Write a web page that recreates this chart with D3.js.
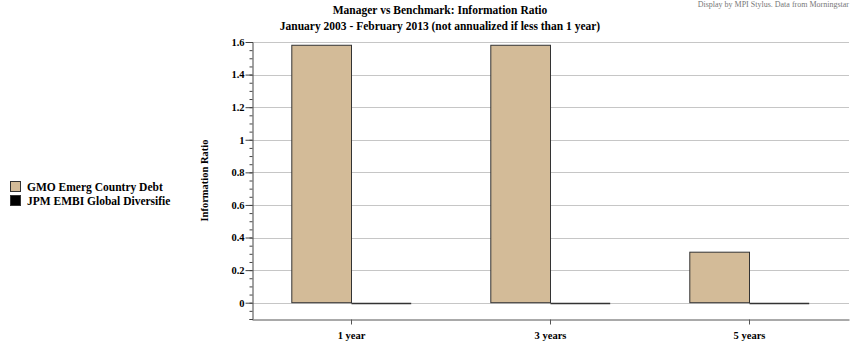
<!DOCTYPE html>
<html>
<head>
<meta charset="utf-8">
<script src="https://cdn.jsdelivr.net/npm/d3@7"></script>
<style>
  html, body { margin: 0; padding: 0; background: #fff; }
  svg { display: block; }
  text { font-family: "Liberation Serif", "DejaVu Serif", serif; }
</style>
</head>
<body>
<svg id="chart" width="852" height="349"></svg>
<script>
// Information ratio by trailing period
const categories = ["1 year", "3 years", "5 years"];
const seriesNames = ["GMO Emerg Country Debt", "JPM EMBI Global Diversifie"];
const gmoValues = [1.58, 1.58, 0.31];
const jpmValues = [0, 0, 0];
const yTickValues = [0, 0.2, 0.4, 0.6, 0.8, 1, 1.2, 1.4, 1.6];
const yTickLabels = ["0", "0.2", "0.4", "0.6", "0.8", "1", "1.2", "1.4", "1.6"];
const seriesColors = ["#D3BB98", "#000000"];

const svg = d3.select("#chart");
const plot = { left: 252, right: 849, top: 42, bottom: 319 };

const y = d3.scaleLinear().domain([-0.1, 1.6]).range([plot.bottom, plot.top]);
const x = d3.scaleBand().domain(categories).range([plot.left, plot.right]).padding(0);
const bw = x.bandwidth();
const xs = d3.scaleBand().domain(seriesNames).range([bw * 0.2, bw * 0.8]).padding(0);

// Source note, top right
svg.append("text")
  .attr("x", 849).attr("y", 7)
  .attr("text-anchor", "end")
  .attr("font-size", 8)
  .attr("fill", "#777")
  .text("Display by MPI Stylus. Data from Morningstar");

// Titles
svg.append("text")
  .attr("x", 440).attr("y", 14)
  .attr("text-anchor", "middle")
  .attr("font-size", 11.5).attr("font-weight", "bold")
  .text("Manager vs Benchmark: Information Ratio");
svg.append("text")
  .attr("x", 440).attr("y", 30)
  .attr("text-anchor", "middle")
  .attr("font-size", 11.5).attr("font-weight", "bold")
  .text("January 2003 - February 2013 (not annualized if less than 1 year)");

// Gridlines
svg.append("g").selectAll("line")
  .data(yTickValues)
  .join("line")
  .attr("x1", plot.left).attr("x2", plot.right)
  .attr("y1", d => Math.round(y(d)) + 0.5).attr("y2", d => Math.round(y(d)) + 0.5)
  .attr("stroke", "#c6c6c6").attr("stroke-width", 1);

// Bars
const groups = svg.append("g").selectAll("g")
  .data(categories)
  .join("g")
  .attr("transform", d => `translate(${x(d)},0)`);

groups.selectAll("rect")
  .data((d, i) => [
    { name: seriesNames[0], value: gmoValues[i], color: seriesColors[0] },
    { name: seriesNames[1], value: jpmValues[i], color: seriesColors[1] }
  ])
  .join("rect")
  .attr("x", d => xs(d.name))
  .attr("width", xs.bandwidth())
  .attr("y", d => y(Math.max(0, d.value)))
  .attr("height", d => Math.abs(y(d.value) - y(0)))
  .attr("fill", d => d.color)
  .attr("stroke", "#333")
  .attr("stroke-width", 1);

// Zero-height bars show as a dark line on the baseline
groups.selectAll("line.zero")
  .data((d, i) => [jpmValues[i]])
  .join("line")
  .attr("class", "zero")
  .attr("x1", xs(seriesNames[1])).attr("x2", xs(seriesNames[1]) + xs.bandwidth())
  .attr("y1", Math.round(y(0)) + 0.5).attr("y2", Math.round(y(0)) + 0.5)
  .attr("stroke", "#333").attr("stroke-width", 1.5);

// Y axis with minor ticks
const yAxisG = svg.append("g").attr("transform", `translate(${plot.left + 0.5},0)`);
yAxisG.call(
  d3.axisLeft(y).tickValues(d3.range(-0.1, 1.6001, 0.05)).tickSize(3).tickFormat("")
).call(g => g.select(".domain").attr("stroke", "#444"))
 .call(g => g.selectAll(".tick line").attr("stroke", "#444"));

svg.append("g").attr("transform", `translate(${plot.left + 0.5},0)`)
  .call(d3.axisLeft(y).tickValues(yTickValues).tickSize(7).tickPadding(1)
    .tickFormat((d, i) => yTickLabels[i]))
  .call(g => g.select(".domain").remove())
  .call(g => g.selectAll(".tick line").attr("stroke", "#444"))
  .call(g => g.selectAll(".tick text")
    .attr("font-family", "Liberation Serif, serif")
    .attr("font-size", 10.5).attr("font-weight", "bold").attr("fill", "#000"));

// X axis
svg.append("g").attr("transform", `translate(0,${plot.bottom + 0.5})`)
  .call(d3.axisBottom(x).tickSize(5).tickSizeOuter(0).tickPadding(7))
  .call(g => g.select(".domain").attr("stroke", "#555"))
  .call(g => g.selectAll(".tick line").attr("stroke", "#555"))
  .call(g => g.selectAll(".tick text")
    .attr("font-family", "Liberation Serif, serif")
    .attr("font-size", 10.5).attr("font-weight", "bold").attr("fill", "#000"));

// Y axis title
svg.append("text")
  .attr("transform", `translate(208,${(plot.top + plot.bottom) / 2}) rotate(-90)`)
  .attr("text-anchor", "middle")
  .attr("font-size", 10.5).attr("font-weight", "bold")
  .text("Information Ratio");

// Legend
const legend = svg.append("g").selectAll("g")
  .data(seriesNames)
  .join("g")
  .attr("transform", (d, i) => `translate(10,${181 + i * 14})`);
legend.append("rect")
  .attr("x", 0.5).attr("y", 0.5).attr("width", 10).attr("height", 10)
  .attr("fill", (d, i) => seriesColors[i])
  .attr("stroke", "#333");
legend.append("text")
  .attr("x", 17).attr("y", 9.5)
  .attr("font-size", 11.5).attr("font-weight", "bold")
  .text(d => d);
</script>
</body>
</html>
